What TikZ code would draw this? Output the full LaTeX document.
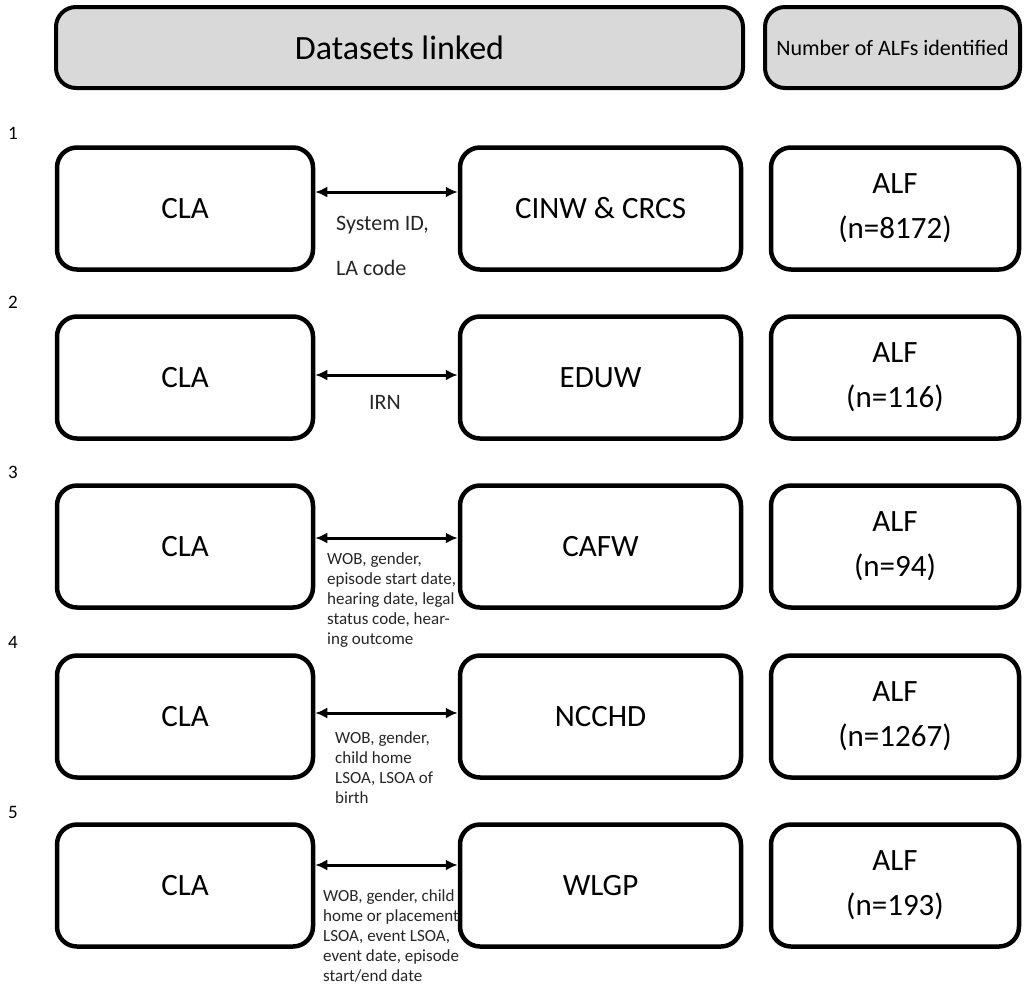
\documentclass[tikz,border=0pt]{standalone}
\usepackage{fontspec}
\setmainfont{Carlito}
\usetikzlibrary{arrows.meta}
\definecolor{headfill}{HTML}{D9D9D9}
\definecolor{keytext}{HTML}{262626}

\begin{document}
\begin{tikzpicture}[x=1pt,y=-1pt,
 box/.style={draw=black,line width=4.5pt,rounded corners=20pt,inner sep=0pt,
  minimum height=122pt,align=center,font=\fontsize{31}{45}\selectfont},
 headbox/.style={box,fill=headfill,line width=4pt,minimum height=81pt},
 link/.style={{Latex[length=12pt,width=11pt]}-{Latex[length=12pt,width=11pt]},line width=3pt},
 keys/.style={anchor=west,align=left,inner sep=0pt,text=keytext,
  font=\fontsize{17}{20}\selectfont},
 rownum/.style={inner sep=0pt,font=\fontsize{19}{20}\selectfont}]
\path[use as bounding box] (0,0) rectangle (1025,985);
% Column headings
\node[headbox,minimum width=687pt,font=\fontsize{34}{40}\selectfont]
  (headlink) at (399.5,47.5) {Datasets linked};
\node[headbox,minimum width=255pt,font=\fontsize{22}{24}\selectfont]
  (headalf) at (892.5,47.5) {Number of ALFs identified};
% Row 1
\node[rownum] (num1) at (13,133) {1};
\node[box,minimum width=256pt] (cla1) at (185,208.5) {CLA};
\node[box,minimum width=281pt] (ds1) at (600.5,208.5) {CINW \& CRCS};
\node[box,minimum width=248pt] (alf1) at (895,208.5) {ALF\\(n=8172)};
\draw[link] ([yshift=16.5pt]cla1.east) -- ([yshift=16.5pt]ds1.west);
\node[keys,font=\fontsize{22}{45}\selectfont] (key1) at (336,245.5) {System ID,\\LA code};
% Row 2
\node[rownum] (num2) at (13,302) {2};
\node[box,minimum width=256pt] (cla2) at (185,377.5) {CLA};
\node[box,minimum width=281pt] (ds2) at (600.5,377.5) {EDUW};
\node[box,minimum width=248pt] (alf2) at (895,377.5) {ALF\\(n=116)};
\draw[link] ([yshift=2.5pt]cla2.east) -- ([yshift=2.5pt]ds2.west);
\node[keys,anchor=center,font=\fontsize{22}{24}\selectfont] (key2) at (385,402) {IRN};
% Row 3
\node[rownum] (num3) at (13,472) {3};
\node[box,minimum width=256pt] (cla3) at (185,546.5) {CLA};
\node[box,minimum width=281pt] (ds3) at (600.5,546.5) {CAFW};
\node[box,minimum width=248pt] (alf3) at (895,546.5) {ALF\\(n=94)};
\draw[link] ([yshift=8.5pt]cla3.east) -- ([yshift=8.5pt]ds3.west);
\node[keys] (key3) at (327,600)
  {WOB, gender,\\episode start date,\\hearing date, legal\\status code, hear-\\ing outcome};
% Row 4
\node[rownum] (num4) at (13,642) {4};
\node[box,minimum width=256pt] (cla4) at (185,716.5) {CLA};
\node[box,minimum width=281pt] (ds4) at (600.5,716.5) {NCCHD};
\node[box,minimum width=248pt] (alf4) at (895,716.5) {ALF\\(n=1267)};
\draw[link] ([yshift=3.5pt]cla4.east) -- ([yshift=3.5pt]ds4.west);
\node[keys] (key4) at (335,768) {WOB, gender,\\child home\\LSOA, LSOA of\\birth};
% Row 5
\node[rownum] (num5) at (13,812) {5};
\node[box,minimum width=256pt] (cla5) at (185,885.5) {CLA};
\node[box,minimum width=281pt] (ds5) at (600.5,885.5) {WLGP};
\node[box,minimum width=248pt] (alf5) at (895,885.5) {ALF\\(n=193)};
\draw[link] ([yshift=20.5pt]cla5.east) -- ([yshift=20.5pt]ds5.west);
\node[keys] (key5) at (323,936)
  {WOB, gender, child\\home or placement\\LSOA, event LSOA,\\event date, episode\\start/end date};
\end{tikzpicture}
\end{document}
